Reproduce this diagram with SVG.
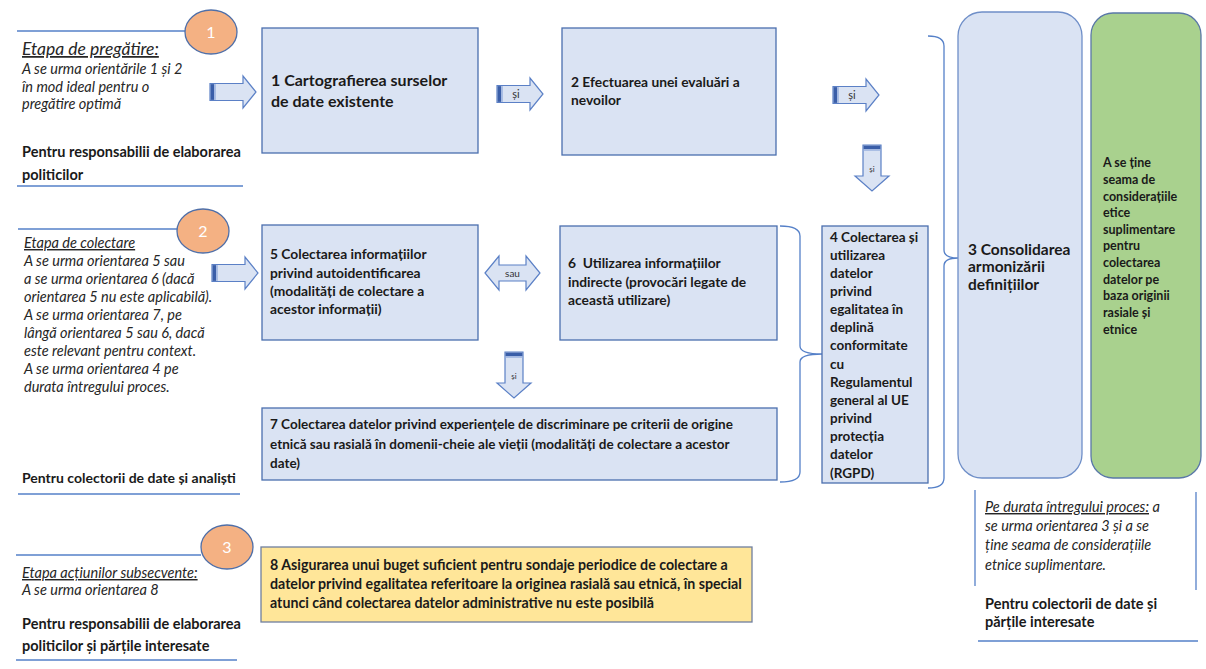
<svg xmlns="http://www.w3.org/2000/svg" xmlns:xlink="http://www.w3.org/1999/xlink" width="1206" height="669" viewBox="0 0 1206 669">
<style>
.box{fill:#dae3f3;stroke:#4b6fae;stroke-width:1.3}
.ln{stroke:#5580c8;stroke-width:1.3;fill:none}
.circ{fill:#f4b183;stroke:#4f6fa8;stroke-width:1.3}
.ct{fill:#fff;font-family:Lato,"Liberation Sans",sans-serif;font-size:16px;text-anchor:middle}
.b{font-family:Lato,"Liberation Sans",sans-serif;font-weight:bold;fill:#1a1a1a;font-size:13.5px}
.m{font-size:13.8px}
.it{font-family:Lato,"Liberation Sans",sans-serif;font-style:italic;fill:#262626;font-size:14.5px}
.arr{fill:#dae3f3;stroke:#5b80c6;stroke-width:1.2}
.st{fill:#3a5ea8}
.st2{fill:#9fb5e0}
.al{font-family:Lato,"Liberation Sans",sans-serif;fill:#333;font-size:11px;text-anchor:middle}
.u{text-decoration:underline}
</style>
<defs>
<g id="rarrow">
<path class="arr" d="M0,-8.5 H33 V-16 L46,0 L33,16 V8.5 H0 Z"/>
<rect class="st" x="0.6" y="-7.9" width="3.6" height="15.8"/>
<rect class="st2" x="4.2" y="-7.9" width="1.6" height="15.8"/>
</g>
<g id="darrow">
<path class="arr" d="M-9,0 H9 V31 H17 L0,46 L-17,31 H-9 Z"/>
<rect class="st" x="-8.4" y="0.6" width="16.8" height="3.6"/>
<rect class="st2" x="-8.4" y="4.2" width="16.8" height="1.6"/>
</g>
</defs>

<!-- stage 1 -->
<g id="stage1">
<line class="ln" x1="17" y1="31" x2="186" y2="31"/>
<ellipse class="circ" cx="211" cy="32" rx="26" ry="22"/>
<text class="ct" x="211" y="38">1</text>
<text class="it" x="22" y="55" style="font-size:17.5px"><tspan class="u">Etapa de pregătire:</tspan></text>
<text class="it" x="22" y="74">A se urma orientările 1 și 2</text>
<text class="it" x="22" y="92">în mod ideal pentru o</text>
<text class="it" x="22" y="109">pregătire optimă</text>
<text class="b" x="22" y="157" style="font-size:14.5px">Pentru responsabilii de elaborarea</text>
<text class="b" x="22" y="180" style="font-size:14.5px">politicilor</text>
<line class="ln" x1="17" y1="186" x2="243" y2="186"/>
</g>

<!-- stage 2 -->
<g id="stage2">
<line class="ln" x1="18" y1="229" x2="178" y2="229"/>
<ellipse class="circ" cx="203" cy="231" rx="26" ry="22"/>
<text class="ct" x="203" y="237">2</text>
<text class="it" x="24" y="248"><tspan class="u">Etapa de colectare</tspan></text>
<text class="it" x="24" y="266">A se urma orientarea 5 sau</text>
<text class="it" x="24" y="284">a se urma orientarea 6 (dacă</text>
<text class="it" x="24" y="302">orientarea 5 nu este aplicabilă).</text>
<text class="it" x="24" y="320">A se urma orientarea 7, pe</text>
<text class="it" x="24" y="338">lângă orientarea 5 sau 6, dacă</text>
<text class="it" x="24" y="356">este relevant pentru context.</text>
<text class="it" x="24" y="374">A se urma orientarea 4 pe</text>
<text class="it" x="24" y="392">durata întregului proces.</text>
<text class="b" x="22" y="483" style="font-size:14px">Pentru colectorii de date și analiști</text>
<line class="ln" x1="18" y1="494" x2="240" y2="494"/>
</g>

<!-- stage 3 -->
<g id="stage3">
<line class="ln" x1="16" y1="555" x2="201" y2="555"/>
<ellipse class="circ" cx="227" cy="547" rx="26" ry="22"/>
<text class="ct" x="227" y="553">3</text>
<text class="it" x="22" y="578"><tspan class="u">Etapa acțiunilor subsecvente:</tspan></text>
<text class="it" x="22" y="595">A se urma orientarea 8</text>
<text class="b" x="22" y="629" style="font-size:14.5px">Pentru responsabilii de elaborarea</text>
<text class="b" x="22" y="651" style="font-size:14.5px">politicilor și părțile interesate</text>
<line class="ln" x1="16" y1="660" x2="237" y2="660"/>
</g>

<!-- connectors -->
<g id="connectors">
<use xlink:href="#rarrow" x="210" y="92"/>
<use xlink:href="#rarrow" x="497" y="94"/>
<text class="al" x="516" y="98">și</text>
<use xlink:href="#rarrow" x="833" y="95"/>
<text class="al" x="852" y="99">și</text>
<use xlink:href="#darrow" x="872" y="145"/>
<text class="al" x="872" y="172" style="font-size:8px">și</text>
<use xlink:href="#rarrow" x="212" y="273"/>
<path class="arr" d="M485,273 L499,256 V265 H526 V256 L540,273 L526,290 V281 H499 V290 Z"/>
<text class="al" x="512.5" y="277" style="font-size:10px">sau</text>
<use xlink:href="#darrow" x="514" y="352"/>
<text class="al" x="514" y="379" style="font-size:8px">și</text>
<path class="ln" d="M780,226 Q800,226 800,236 L800,346 Q800,354 822,354 Q800,354 800,362 L800,472 Q800,482 780,482"/>
<path class="ln" d="M928,36 Q944,36 944,46 L944,250 Q944,258 958,258 Q944,258 944,266 L944,478 Q944,488 928,488"/>
</g>

<!-- nodes -->
<g id="n1">
<rect class="box" x="262" y="28" width="216" height="125"/>
<text class="b" x="271" y="86" style="font-size:16px">1 Cartografierea surselor</text>
<text class="b" x="271" y="107" style="font-size:16px">de date existente</text>
</g>
<g id="n2">
<rect class="box" x="562" y="28" width="214" height="127"/>
<text class="b m" x="571" y="87">2 Efectuarea unei evaluări a</text>
<text class="b m" x="571" y="105">nevoilor</text>
</g>
<g id="n5">
<rect class="box" x="262" y="225" width="216" height="115"/>
<text class="b m" x="270" y="259">5 Colectarea informațiilor</text>
<text class="b m" x="270" y="278">privind autoidentificarea</text>
<text class="b m" x="270" y="296">(modalități de colectare a</text>
<text class="b m" x="270" y="314">acestor informații)</text>
</g>
<g id="n6">
<rect class="box" x="560" y="226" width="217" height="114"/>
<text class="b m" x="568" y="268" xml:space="preserve">6  Utilizarea informațiilor</text>
<text class="b m" x="568" y="287">indirecte (provocări legate de</text>
<text class="b m" x="568" y="305">această utilizare)</text>
</g>
<g id="n7">
<rect class="box" x="262" y="408" width="515" height="72"/>
<text class="b" x="270" y="429">7 Colectarea datelor privind experiențele de discriminare pe criterii de origine</text>
<text class="b" x="270" y="449">etnică sau rasială în domenii-cheie ale vieții (modalități de colectare a acestor</text>
<text class="b" x="270" y="468">date)</text>
</g>
<g id="n4">
<rect class="box" x="822" y="226" width="106" height="257"/>
<text class="b" x="830" y="242">4 Colectarea și</text>
<text class="b" x="830" y="260">utilizarea</text>
<text class="b" x="830" y="278">datelor</text>
<text class="b" x="830" y="296">privind</text>
<text class="b" x="830" y="314">egalitatea în</text>
<text class="b" x="830" y="332">deplină</text>
<text class="b" x="830" y="350">conformitate</text>
<text class="b" x="830" y="369">cu</text>
<text class="b" x="830" y="387">Regulamentul</text>
<text class="b" x="830" y="405">general al UE</text>
<text class="b" x="830" y="423">privind</text>
<text class="b" x="830" y="441">protecția</text>
<text class="b" x="830" y="459">datelor</text>
<text class="b" x="830" y="478">(RGPD)</text>
</g>
<g id="n3">
<rect class="box" x="958" y="12" width="124" height="466" rx="24" style="stroke:#6f8fc8"/>
<text class="b" x="968" y="255" style="font-size:15.5px">3 Consolidarea</text>
<text class="b" x="968" y="272" style="font-size:15.5px">armonizării</text>
<text class="b" x="968" y="290" style="font-size:15.5px">definițiilor</text>
</g>
<g id="nEthics">
<rect x="1091" y="13" width="110" height="465" rx="22" style="fill:#a9d18e;stroke:#5a78a8;stroke-width:1.3"/>
<g class="b" style="font-size:12.5px">
<text x="1103" y="167">A se ține</text>
<text x="1103" y="184">seama de</text>
<text x="1103" y="201">considerațiile</text>
<text x="1103" y="217">etice</text>
<text x="1103" y="234">suplimentare</text>
<text x="1103" y="250">pentru</text>
<text x="1103" y="267">colectarea</text>
<text x="1103" y="284">datelor pe</text>
<text x="1103" y="300">baza originii</text>
<text x="1103" y="317">rasiale și</text>
<text x="1103" y="334">etnice</text>
</g>
</g>
<g id="n8">
<rect x="261" y="547" width="491" height="75" style="fill:#ffe699;stroke:#6f7f9f;stroke-width:1.3"/>
<text class="b" x="270" y="570" style="font-size:14.2px">8 Asigurarea unui buget suficient pentru sondaje periodice de colectare a</text>
<text class="b" x="270" y="589" style="font-size:14.2px">datelor privind egalitatea referitoare la originea rasială sau etnică, în special</text>
<text class="b" x="270" y="608" style="font-size:14.2px">atunci când colectarea datelor administrative nu este posibilă</text>
</g>

<!-- whole process note -->
<g id="process">
<line class="ln" x1="975" y1="490" x2="975" y2="586"/>
<line class="ln" x1="1196" y1="492" x2="1196" y2="590"/>
<text class="it" x="985" y="512"><tspan class="u">Pe durata întregului proces:</tspan> a</text>
<text class="it" x="985" y="531">se urma orientarea 3 și a se</text>
<text class="it" x="985" y="550">ține seama de considerațiile</text>
<text class="it" x="985" y="570">etnice suplimentare.</text>
<text class="b" x="985" y="609" style="font-size:14.5px">Pentru colectorii de date și</text>
<text class="b" x="985" y="627" style="font-size:14.5px">părțile interesate</text>
<line class="ln" x1="978" y1="641" x2="1198" y2="641"/>
</g>
</svg>
